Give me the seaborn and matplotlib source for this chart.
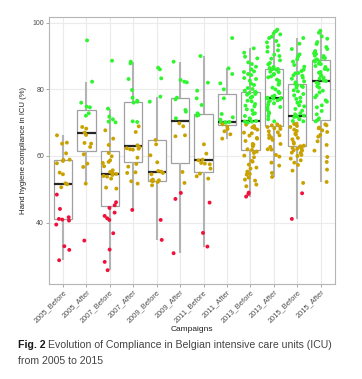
import matplotlib
matplotlib.use("Agg")
import matplotlib.pyplot as plt
import seaborn as sns
import numpy as np
import pandas as pd

campaigns = ["2005_Before", "2005_After", "2007_Before", "2007_After",
             "2009_Before", "2009_After", "2011_Before", "2011_After",
             "2013_Before", "2013_After", "2015_Before", "2015_After"]

# compliance (%) per ICU
b2005 = [66.2, 64.0, 63.7, 60.8, 58.9, 58.8, 58.5, 57.8, 55.0, 54.5, 51.8, 51.5,
         50.6, 48.4, 44.1, 41.6, 41.1, 40.9, 40.6, 39.4, 32.9, 31.8, 28.7]
a2005 = [94.7, 82.3, 76.0, 74.8, 74.6, 72.8, 72.1, 68.7, 68.2, 67.0, 66.3, 63.9,
         63.7, 62.7, 60.5, 57.7, 56.7, 51.7, 34.6]
b2007 = [88.6, 74.2, 71.8, 71.0, 70.3, 70.1, 67.7, 65.2, 63.3, 60.9, 59.9, 58.7,
         58.2, 57.9, 56.9, 55.7, 55.2, 54.8, 54.6, 54.3, 54.0, 53.8, 53.2, 50.5,
         50.2, 46.1, 45.2, 44.4, 43.0, 42.0, 41.3, 40.8, 36.8, 31.9, 28.2, 25.7]
a2007 = [88.3, 87.8, 83.1, 79.8, 77.5, 76.6, 76.3, 76.0, 70.4, 70.2, 68.9, 67.2,
         63.2, 62.6, 62.3, 62.2, 62.0, 61.9, 59.5, 57.6, 56.8, 55.1, 54.9, 52.4,
         51.7, 43.8]
b2009 = [86.5, 86.0, 83.3, 77.8, 76.3, 64.8, 63.5, 60.2, 58.1, 55.5, 55.3, 54.9,
         54.5, 52.9, 52.7, 52.6, 52.4, 52.2, 51.2, 40.8, 34.8]
a2009 = [88.3, 82.8, 82.3, 82.1, 77.5, 77.0, 73.8, 73.3, 71.3, 69.8, 68.9, 66.2,
         65.9, 55.2, 51.9, 48.9, 47.1, 30.8]
b2011 = [90.0, 82.0, 79.6, 77.3, 75.3, 72.8, 72.3, 72.1, 63.5, 60.7, 58.9, 58.7,
         57.9, 57.7, 57.5, 56.2, 54.7, 53.9, 53.2, 46.0, 36.9, 32.8]
a2011 = [95.4, 86.3, 84.6, 81.8, 80.0, 77.3, 72.6, 71.6, 70.9, 70.2, 70.1, 70.1,
         70.0, 69.5, 68.8, 68.1, 67.4, 66.5, 65.2]
b2013 = [47.8, 48.6, 49.0,
         50.9, 51.4, 52.6, 52.9, 53.5, 54.4, 54.6, 55.3, 56.2, 56.5, 57.4, 58.3,
         58.5, 59.6, 60.1, 60.9, 61.3,
         61.8, 62.0, 62.9, 63.4, 63.6, 64.5, 65.2, 65.4, 66.1, 66.8, 67.0, 67.9,
         68.3, 68.6, 69.0, 69.4, 70.0, 70.1, 70.3, 70.3,
         70.5, 71.1, 71.3, 72.0, 72.6, 72.8, 73.7, 74.0, 74.9, 75.1, 75.6, 76.4,
         76.6, 77.5, 77.8, 78.4, 78.6, 78.9, 79.1, 79.2,
         79.6, 80.1, 80.4, 81.3, 81.7, 82.6, 83.1, 83.4, 84.3, 84.6, 85.2, 85.4,
         86.0, 86.8, 87.6, 88.1, 89.3, 89.8, 91.0, 92.3]
a2013 = [53.7, 54.9, 57.1, 58.0, 59.8, 60.3, 61.9, 62.0, 62.7, 63.6, 64.8, 65.4,
         65.6, 66.2, 66.3, 67.1, 67.4, 68.1, 68.3, 68.7,
         68.9, 69.2, 69.5, 70.4, 71.0, 71.9, 72.7, 73.0, 73.8, 74.5, 74.7, 75.4,
         75.8, 76.1, 76.6, 76.7, 77.0, 77.2, 77.3, 77.4,
         77.5, 77.8, 78.1, 78.9, 79.3, 80.0, 80.5, 81.4, 81.8, 82.5, 82.9, 83.6,
         83.9, 84.4, 84.6, 85.2, 85.3, 85.9, 86.0, 86.1,
         86.4, 86.7, 87.5, 87.9, 88.7, 89.2, 90.0, 90.4, 91.3, 91.7, 92.7, 93.2,
         94.1, 94.5, 95.4, 95.8, 96.5, 96.8, 97.5, 97.9]
b2015 = [41.1, 48.8, 51.9, 55.6, 57.3, 58.0, 58.7, 59.2, 60.0, 60.3, 60.9, 61.0,
         61.6, 61.7, 62.1, 62.2, 62.4, 62.7, 62.8, 62.9,
         63.1, 63.7, 64.1, 65.0, 65.4, 66.4, 66.7, 67.5, 67.9, 68.7, 69.0, 69.6,
         69.7, 70.4, 70.5, 71.0, 71.2, 71.7, 71.9,
         72.1, 72.5, 72.8, 73.6, 74.1, 74.9, 75.2, 76.0, 76.3, 77.1, 77.5, 78.2,
         78.6, 79.4, 79.7, 80.5, 80.7, 81.0, 81.2,
         81.6, 82.1, 82.4, 83.2, 83.5, 84.1, 84.2, 84.8, 84.9, 85.5, 85.9, 86.8,
         87.3, 88.3, 89.0, 89.9, 90.5, 92.1, 93.7, 95.4]
a2015 = [52.2, 55.9, 58.2, 59.7, 61.6, 63.3, 64.4, 65.8, 66.3, 67.2, 67.7, 68.3,
         68.5, 69.2, 69.5, 70.4, 70.7,
         71.3, 72.5, 73.5, 74.6, 75.2, 76.3, 76.7, 77.6, 78.2, 79.1, 79.6, 80.5,
         80.9, 81.7, 82.0, 82.5,
         82.7, 83.2, 83.5, 84.1, 84.3, 85.0, 85.2, 85.9, 86.1, 86.7, 87.0, 87.6,
         87.7, 88.3, 88.4, 88.7,
         89.0, 89.4, 89.5, 90.0, 90.1, 90.6, 90.8, 91.3, 91.5, 92.1, 92.7, 93.6,
         94.2, 95.2, 95.9, 97.0, 97.6]

values = [b2005, a2005, b2007, a2007, b2009, a2009,
          b2011, a2011, b2013, a2013, b2015, a2015]

df = pd.DataFrame({
    "Campaign": np.repeat(campaigns, [len(v) for v in values]),
    "Compliance": np.concatenate(values),
})
df["Level"] = pd.cut(df["Compliance"], bins=[-np.inf, 50, 70, np.inf],
                     labels=["low", "mid", "high"], right=False)

level_colors = {"low": "#f0103a", "mid": "#c9a200", "high": "#2ef52e"}

sns.set_style("whitegrid", {"grid.color": "#ebebeb", "axes.edgecolor": "#b5b5b5"})
plt.rcParams["font.family"] = ["Liberation Sans", "DejaVu Sans"]

fig = plt.figure(figsize=(3.62, 3.79), dpi=100)
ax = fig.add_axes([0.135, 0.251, 0.79, 0.704])

sns.boxplot(data=df, x="Campaign", y="Compliance", order=campaigns,
            showfliers=False, showcaps=False, width=0.78,
            color="white", linecolor="#a0a0a0", linewidth=0.9,
            medianprops={"color": "#262626", "linewidth": 1.6},
            whiskerprops={"color": "#b3b3b3", "linewidth": 1.5},
            ax=ax)

np.random.seed(7)
sns.stripplot(data=df, x="Campaign", y="Compliance", order=campaigns,
              hue="Level", hue_order=["low", "mid", "high"],
              palette=level_colors, jitter=0.3, size=2.8, linewidth=0,
              legend=False, ax=ax, zorder=3)

ax.set_xlim(-0.6, 11.6)
ax.set_ylim(21.6, 101.7)
ax.set_yticks([40, 60, 80, 100])
ax.grid(True, color="#ebebeb", linewidth=0.8)
for s in ax.spines.values():
    s.set_color("#b5b5b5")
    s.set_linewidth(0.8)
ax.tick_params(bottom=True, left=True, length=2, width=0.6, color="#999999",
               labelsize=5, labelcolor="#4d4d4d", pad=1.5)
ax.tick_params(axis="x", labelsize=5.4)
plt.setp(ax.get_xticklabels(), rotation=45, ha="right", rotation_mode="anchor")
ax.set_xlabel("Campaigns", fontsize=6, color="#222222", labelpad=1)
ax.set_ylabel("Hand hygiene compliance in ICU (%)", fontsize=5.6,
              color="#222222", labelpad=4)

# caption
cap_y = 1 - 348 / 379
t1 = fig.text(18 / 362, cap_y, "Fig. 2", fontsize=7.6, fontweight="bold",
              color="#1a1a1a", va="baseline")
fig.canvas.draw()
bb = t1.get_window_extent()
x2 = (bb.x1 + 3) / fig.bbox.width
fig.text(x2, cap_y, "Evolution of Compliance in Belgian intensive care units (ICU)",
         fontsize=7.6, color="#444444", va="baseline")
fig.text(18 / 362, 1 - 364 / 379, "from 2005 to 2015", fontsize=7.6,
         color="#444444", va="baseline")

fig.savefig("out.png", dpi=100)
